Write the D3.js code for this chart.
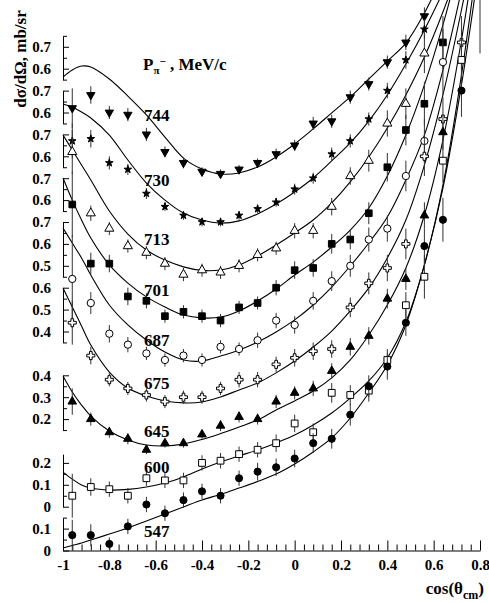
<!DOCTYPE html>
<html>
<head>
<meta charset="utf-8">
<script src="https://cdn.jsdelivr.net/npm/d3@7"></script>
<style>
body { margin: 0; background: #fff; }
svg { display: block; font-family: "Liberation Serif", "Times New Roman", serif; font-weight: bold; }
</style>
</head>
<body>
<div id="chart"></div>
<script>
// Beam momenta, top to bottom, and the shift of each set on the common axis
const momenta = [744, 730, 713, 701, 687, 675, 645, 600, 547];
const offsets = [1.6, 1.4, 1.2, 1.0, 0.8, 0.6, 0.4, 0.2, 0];

// cos(theta) bin centres of the data points
const pointX = [-0.96, -0.88, -0.80, -0.72, -0.64, -0.56, -0.48, -0.40, -0.32, -0.24, -0.16, -0.08,
  0, 0.08, 0.16, 0.24, 0.32, 0.40, 0.48, 0.56, 0.64, 0.72, 0.80];

const val744 = [0.42, 0.48, 0.40, 0.39, 0.30, 0.22, 0.17, 0.13, 0.12, 0.14, 0.17, 0.21, 0.25, 0.35, 0.36, 0.47, 0.53, 0.63, 0.72, 0.84];
const err744 = [0.09, 0.04, 0.03, 0.03, 0.03, 0.025, 0.025, 0.02, 0.02, 0.02, 0.02, 0.025, 0.025, 0.03, 0.03, 0.03, 0.03, 0.03, 0.035, 0.04];
const val730 = [0.47, 0.48, 0.37, 0.34, 0.23, 0.17, 0.13, 0.10, 0.10, 0.13, 0.16, 0.19, 0.25, 0.30, 0.41, 0.47, 0.57, 0.70, 0.84, 0.98];
const err730 = [0.08, 0.04, 0.03, 0.025, 0.025, 0.02, 0.02, 0.02, 0.02, 0.02, 0.02, 0.02, 0.025, 0.025, 0.03, 0.03, 0.03, 0.035, 0.04, 0.045];
const val713 = [0.62, 0.34, 0.27, 0.19, 0.16, 0.11, 0.06, 0.08, 0.07, 0.10, 0.15, 0.18, 0.26, 0.26, 0.37, 0.51, 0.58, 0.75, 0.84, 1.07];
const err713 = [0.1, 0.035, 0.03, 0.03, 0.03, 0.03, 0.03, 0.03, 0.03, 0.03, 0.03, 0.03, 0.035, 0.035, 0.04, 0.04, 0.05, 0.06, 0.07, 0.09];
const val701 = [0.58, 0.31, 0.31, 0.16, 0.14, 0.07, 0.09, 0.07, 0.05, 0.11, 0.13, 0.20, 0.28, 0.29, 0.40, 0.42, 0.54, 0.75, 0.92, 1.04, 1.32];
const err701 = [0.15, 0.05, 0.04, 0.04, 0.035, 0.03, 0.03, 0.03, 0.03, 0.03, 0.03, 0.035, 0.04, 0.04, 0.045, 0.045, 0.05, 0.065, 0.07, 0.1, 0.12];
const val687 = [0.44, 0.33, 0.19, 0.14, 0.10, 0.07, 0.09, 0.07, 0.13, 0.12, 0.16, 0.25, 0.23, 0.34, 0.43, 0.50, 0.62, 0.67, 0.91, 1.07, 1.43];
const err687 = [0.2, 0.05, 0.04, 0.035, 0.03, 0.03, 0.03, 0.03, 0.03, 0.03, 0.035, 0.035, 0.04, 0.04, 0.045, 0.05, 0.055, 0.06, 0.07, 0.1, 0.15];
const val675 = [0.44, 0.29, 0.18, 0.14, 0.11, 0.08, 0.10, 0.10, 0.14, 0.18, 0.18, 0.25, 0.28, 0.31, 0.32, 0.51, 0.62, 0.69, 0.80, 1.20, 1.37, 1.72];
const err675 = [0.1, 0.04, 0.03, 0.03, 0.03, 0.03, 0.03, 0.03, 0.03, 0.035, 0.035, 0.035, 0.04, 0.04, 0.04, 0.045, 0.05, 0.06, 0.07, 0.09, 0.1, 0.12];
const val645 = [0.28, 0.20, 0.14, 0.11, 0.06, 0.09, 0.09, 0.13, 0.17, 0.21, 0.20, 0.28, 0.32, 0.34, 0.42, 0.53, 0.58, 0.75, 0.84, 1.13, 1.51];
const err645 = [0.06, 0.03, 0.025, 0.025, 0.02, 0.02, 0.02, 0.02, 0.025, 0.025, 0.025, 0.03, 0.03, 0.035, 0.035, 0.04, 0.04, 0.045, 0.05, 0.06, 0.08];
const val600 = [0.05, 0.09, 0.08, 0.05, 0.13, 0.12, 0.12, 0.20, 0.21, 0.24, 0.26, 0.29, 0.38, 0.34, 0.52, 0.51, 0.53, 0.67, 0.92, 1.05, 1.58, 2.04];
const err600 = [0.1, 0.04, 0.035, 0.035, 0.035, 0.035, 0.035, 0.035, 0.035, 0.035, 0.035, 0.04, 0.04, 0.04, 0.045, 0.045, 0.05, 0.05, 0.06, 0.1, 0.1, 0.12];
const val547 = [0.07, 0.07, 0.03, 0.11, 0.21, 0.17, 0.23, 0.27, 0.25, 0.33, 0.36, 0.38, 0.42, 0.49, 0.51, 0.62, 0.75, 0.84, 1.04, 1.39, 1.51, 2.10, 2.60];
const err547 = [0.07, 0.05, 0.03, 0.035, 0.035, 0.035, 0.035, 0.035, 0.035, 0.035, 0.04, 0.04, 0.04, 0.045, 0.045, 0.05, 0.05, 0.06, 0.06, 0.08, 0.1, 0.12, 0.33];

// fitted curves, sampled on curveX
const curveX = [-1, -0.96, -0.92, -0.88, -0.80, -0.72, -0.64, -0.56, -0.48, -0.40, -0.32, -0.24, -0.16, -0.08,
  0, 0.08, 0.16, 0.24, 0.32, 0.40, 0.48, 0.56, 0.64, 0.72, 0.80];
const fit744 = [0.562, 0.594, 0.612, 0.608, 0.553, 0.475, 0.389, 0.288, 0.192, 0.142, 0.119, 0.124, 0.151, 0.197, 0.256, 0.325, 0.398, 0.471, 0.553, 0.635, 0.717, 0.854, 1.028, 1.211, 1.416];
const fit730 = [0.639, 0.625, 0.602, 0.575, 0.497, 0.383, 0.278, 0.200, 0.141, 0.109, 0.095, 0.105, 0.137, 0.182, 0.237, 0.301, 0.379, 0.461, 0.561, 0.680, 0.821, 0.977, 1.150, 1.342, 1.547];
const fit713 = [0.697, 0.629, 0.560, 0.492, 0.350, 0.245, 0.172, 0.126, 0.095, 0.079, 0.081, 0.104, 0.145, 0.195, 0.250, 0.309, 0.387, 0.483, 0.597, 0.729, 0.880, 1.053, 1.259, 1.496, 1.770];
const fit701 = [0.701, 0.600, 0.509, 0.427, 0.304, 0.221, 0.158, 0.112, 0.075, 0.062, 0.066, 0.094, 0.139, 0.194, 0.258, 0.317, 0.386, 0.463, 0.564, 0.710, 0.897, 1.126, 1.400, 1.719, 2.062];
const fit687 = [0.673, 0.604, 0.536, 0.458, 0.321, 0.230, 0.161, 0.106, 0.070, 0.065, 0.088, 0.116, 0.152, 0.198, 0.253, 0.321, 0.403, 0.499, 0.604, 0.723, 0.892, 1.097, 1.394, 1.759, 2.170];
const fit675 = [0.599, 0.512, 0.425, 0.338, 0.215, 0.142, 0.105, 0.083, 0.074, 0.078, 0.101, 0.133, 0.165, 0.211, 0.265, 0.329, 0.402, 0.494, 0.599, 0.736, 0.909, 1.160, 1.480, 1.868, 2.302];
const fit645 = [0.397, 0.324, 0.264, 0.214, 0.146, 0.105, 0.082, 0.077, 0.086, 0.107, 0.134, 0.164, 0.196, 0.242, 0.283, 0.328, 0.388, 0.470, 0.584, 0.721, 0.890, 1.132, 1.474, 1.931, 2.479];
const fit600 = [0.158, 0.126, 0.099, 0.085, 0.076, 0.079, 0.090, 0.108, 0.136, 0.172, 0.204, 0.232, 0.259, 0.291, 0.327, 0.373, 0.428, 0.496, 0.574, 0.679, 0.843, 1.104, 1.469, 1.971, 2.588];
const fit547 = [0.011, 0.023, 0.034, 0.048, 0.075, 0.103, 0.135, 0.167, 0.199, 0.231, 0.256, 0.285, 0.315, 0.349, 0.395, 0.450, 0.514, 0.605, 0.719, 0.847, 1.030, 1.304, 1.655, 2.126, 2.696];

// extent of each little y axis
const axisLo = [0.55, 0.55, 0.55, 0.55, 0.45, 0.35, 0.15, 0, 0];
const axisHi = [0.75, 0.70, 0.70, 0.70, 0.70, 0.60, 0.40, 0.24, 0.15];

// x axis ticks
const xTicks = [-1, -0.8, -0.6, -0.4, -0.2, 0, 0.2, 0.4, 0.6, 0.8];

const values = [val744, val730, val713, val701, val687, val675, val645, val600, val547];
const errors = [err744, err730, err713, err701, err687, err675, err645, err600, err547];
const fits = [fit744, fit730, fit713, fit701, fit687, fit675, fit645, fit600, fit547];

// layout: where the momentum labels sit (x in cos, y in local units)
const labelX = -0.65;
const labelV = [0.39, 0.29, 0.22, 0.19, 0.16, 0.165, 0.145, 0.18, 0.09];

// marker styles per set
const markers = [
  { type: d3.symbolTriangle, size: 30, fill: "#000", rot: 180 },
  { type: d3.symbolStar, size: 18, fill: "#000", rot: 0 },
  { type: d3.symbolTriangle, size: 36, fill: "#fff", rot: 0 },
  { type: d3.symbolSquare, size: 44, fill: "#000", rot: 0 },
  { type: d3.symbolCircle, size: 42, fill: "#fff", rot: 0 },
  { type: d3.symbolCross, size: 36, fill: "#fff", rot: 0 },
  { type: d3.symbolTriangle, size: 32, fill: "#000", rot: 0 },
  { type: d3.symbolSquare, size: 46, fill: "#fff", rot: 0 },
  { type: d3.symbolCircle, size: 40, fill: "#000", rot: 0 }
];

const W = 489, H = 603;
const svg = d3.select("#chart").append("svg")
  .attr("width", W)
  .attr("height", H);

const x = d3.scaleLinear().domain([-1, 0.8]).range([63, 480]);
const y = d3.scaleLinear().domain([0, 2.5]).range([550.5, 3]);

// x axis: major and minor ticks pointing up
const minorX = d3.range(0, 46).filter(i => i % 5 !== 0).map(i => -1 + i * 0.04);
svg.append("g")
  .attr("transform", `translate(0,${y(0)})`)
  .call(d3.axisBottom(x).tickValues(minorX).tickSizeInner(-6).tickSizeOuter(0).tickFormat(""))
  .call(g => g.select(".domain").remove());
const xAxis = svg.append("g")
  .attr("transform", `translate(0,${y(0)})`)
  .call(d3.axisBottom(x).tickValues(xTicks).tickSizeInner(-10).tickSizeOuter(0).tickPadding(9)
    .tickFormat(d => d === 0 ? "0" : (d === -1 ? "-1" : d.toFixed(1))));
xAxis.selectAll("text")
  .attr("font-family", "Liberation Serif, serif")
  .attr("font-size", 15)
  .attr("font-weight", "bold")
  .attr("fill", "#000");

// one short y axis per momentum set
momenta.forEach((p, i) => {
  const lo = axisLo[i], hi = axisHi[i], off = offsets[i];
  const s = d3.scaleLinear().domain([lo, hi]).range([y(lo + off), y(hi + off)]);
  const major = d3.range(Math.ceil(lo * 10 - 1e-6), Math.floor(hi * 10 + 1e-6) + 1).map(k => k / 10);
  const minor = d3.range(Math.ceil(lo * 20 - 1e-6), Math.floor(hi * 20 + 1e-6) + 1)
    .filter(k => k % 2 !== 0).map(k => k / 20);
  svg.append("g")
    .attr("transform", `translate(${x(-1)},0)`)
    .call(d3.axisLeft(s).tickValues(minor).tickSizeInner(-4).tickSizeOuter(0).tickFormat(""))
    .call(g => g.select(".domain").remove());
  const ax = svg.append("g")
    .attr("transform", `translate(${x(-1)},0)`)
    .call(d3.axisLeft(s).tickValues(major).tickSizeInner(-6).tickSizeOuter(0).tickPadding(12)
      .tickFormat(d => d === 0 ? "0" : d.toFixed(1)));
  ax.selectAll("text")
    .attr("font-family", "Liberation Serif, serif")
    .attr("font-size", 15)
    .attr("font-weight", "bold")
    .attr("fill", "#000");
});

// fitted curves
momenta.forEach((p, i) => {
  const off = offsets[i];
  const line = d3.line()
    .x((d, j) => x(curveX[j]))
    .y(d => y(d + off))
    .curve(d3.curveCatmullRom);
  svg.append("path")
    .datum(fits[i])
    .attr("fill", "none")
    .attr("stroke", "#000")
    .attr("stroke-width", 1.1)
    .attr("d", line);
});

// error bars then markers
momenta.forEach((p, i) => {
  const off = offsets[i];
  const pts = values[i].map((v, j) => ({ x: pointX[j], v: v, e: errors[i][j] }));
  svg.append("g").selectAll("line")
    .data(pts)
    .join("line")
    .attr("x1", d => x(d.x))
    .attr("x2", d => x(d.x))
    .attr("y1", d => y(d.v - d.e + off))
    .attr("y2", d => y(d.v + d.e + off))
    .attr("stroke", "#333")
    .attr("stroke-width", 1);
  const m = markers[i];
  svg.append("g").selectAll("path")
    .data(pts)
    .join("path")
    .attr("transform", d => `translate(${x(d.x)},${y(d.v + off)}) rotate(${m.rot})`)
    .attr("d", d3.symbol().type(m.type).size(m.size))
    .attr("fill", m.fill)
    .attr("stroke", "#000")
    .attr("stroke-width", 1);
});

// momentum labels
svg.append("g").selectAll("text")
  .data(momenta)
  .join("text")
  .attr("x", x(labelX))
  .attr("y", (d, i) => y(labelV[i] + offsets[i]))
  .attr("dy", "0.35em")
  .attr("font-size", 17)
  .text(d => d);

// legend title P_pi-, MeV/c
const title = svg.append("text")
  .attr("x", 143)
  .attr("y", 70)
  .attr("font-size", 17);
title.append("tspan").text("P");
title.append("tspan").attr("font-size", 11).attr("dy", 4).text("\u03c0");
title.append("tspan").attr("font-size", 11).attr("dy", -9).text("\u2212");
title.append("tspan").attr("dy", 5).text(" , MeV/c");

// axis titles
svg.append("text")
  .attr("transform", "translate(26,59) rotate(-90)")
  .attr("text-anchor", "middle")
  .attr("font-size", 17)
  .text("d\u03c3/d\u03a9, mb/sr");

const xt = svg.append("text")
  .attr("x", 484)
  .attr("y", 594)
  .attr("text-anchor", "end")
  .attr("font-size", 17);
xt.append("tspan").text("cos(\u03b8");
xt.append("tspan").attr("font-size", 12).attr("dy", 5).text("cm");
xt.append("tspan").attr("dy", -5).text(")");
</script>
</body>
</html>
